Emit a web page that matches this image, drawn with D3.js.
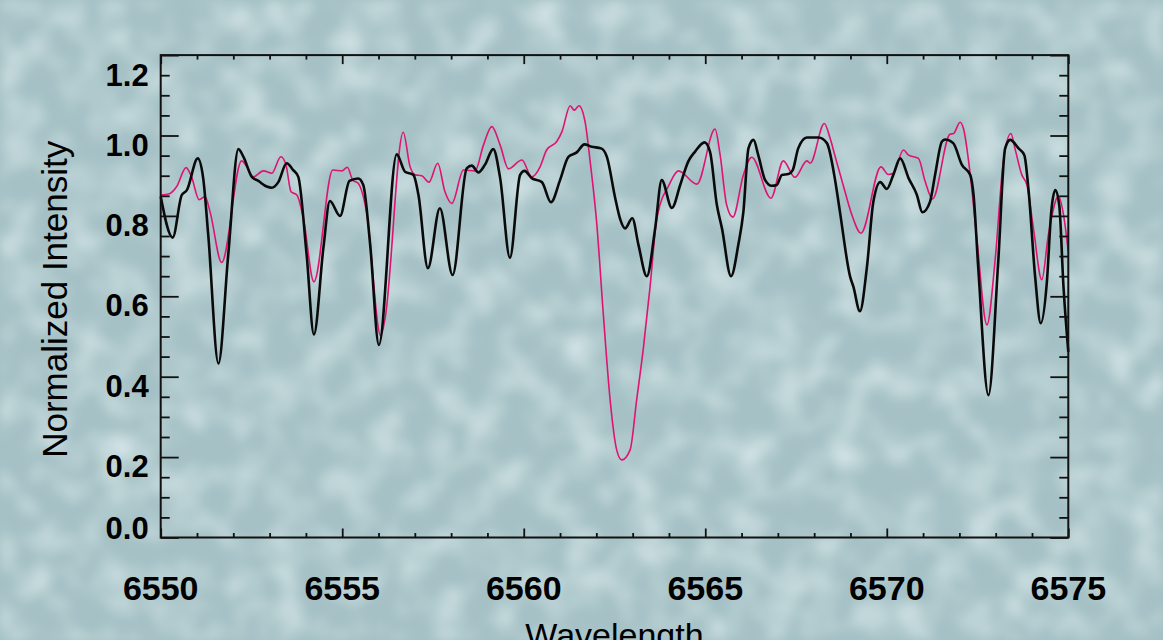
<!DOCTYPE html>
<html>
<head>
<meta charset="utf-8">
<script src="https://cdn.jsdelivr.net/npm/d3@7"></script>
<style>
  html, body { margin: 0; padding: 0; background: #a9c5c9; overflow: hidden; }
  svg { display: block; }
  .tick-label { font-family: "Liberation Sans", Arial, Helvetica, sans-serif; font-weight: bold; fill: #000; }
  .axis-title { font-family: "Liberation Sans", Arial, Helvetica, sans-serif; fill: #000; }
</style>
</head>
<body>
<svg id="chart" width="1163" height="640"></svg>
<script>
// observed spectrum (black)
const observedWave = [6550.00, 6550.33, 6550.58, 6550.72, 6551.02, 6551.17, 6551.31, 6551.59, 6551.86, 6552.14, 6552.28, 6552.51, 6552.69, 6552.92, 6553.06, 6553.24, 6553.47, 6553.65, 6553.79, 6554.02, 6554.22, 6554.48, 6554.66, 6554.94, 6555.20, 6555.44, 6555.58, 6555.77, 6556.01, 6556.50, 6556.73, 6556.96, 6557.10, 6557.36, 6557.69, 6558.04, 6558.43, 6558.57, 6558.75, 6558.93, 6559.16, 6559.35, 6559.62, 6559.90, 6560.02, 6560.22, 6560.50, 6560.75, 6561.00, 6561.23, 6561.46, 6561.67, 6561.87, 6562.13, 6562.29, 6562.52, 6562.65, 6562.79, 6562.99, 6563.16, 6563.39, 6563.62, 6563.80, 6564.08, 6564.31, 6564.53, 6564.72, 6564.98, 6565.13, 6565.32, 6565.46, 6565.71, 6565.91, 6566.05, 6566.19, 6566.33, 6566.46, 6566.65, 6566.83, 6566.97, 6567.11, 6567.29, 6567.41, 6567.56, 6567.80, 6568.12, 6568.35, 6568.58, 6568.71, 6568.99, 6569.08, 6569.26, 6569.45, 6569.63, 6569.82, 6570.00, 6570.18, 6570.37, 6570.60, 6570.83, 6570.98, 6571.19, 6571.33, 6571.52, 6571.61, 6571.83, 6572.07, 6572.30, 6572.39, 6572.52, 6572.80, 6573.07, 6573.26, 6573.40, 6573.63, 6573.79, 6573.90, 6574.09, 6574.24, 6574.41, 6574.53, 6574.64, 6574.75, 6574.87, 6575.00];
const observedFlux = [0.848, 0.746, 0.852, 0.864, 0.943, 0.894, 0.752, 0.433, 0.703, 0.966, 0.947, 0.897, 0.887, 0.873, 0.870, 0.884, 0.931, 0.914, 0.897, 0.703, 0.505, 0.719, 0.837, 0.800, 0.887, 0.893, 0.877, 0.728, 0.479, 0.953, 0.910, 0.902, 0.852, 0.670, 0.819, 0.653, 0.918, 0.925, 0.908, 0.927, 0.966, 0.894, 0.696, 0.902, 0.912, 0.894, 0.884, 0.834, 0.889, 0.947, 0.958, 0.978, 0.972, 0.968, 0.947, 0.844, 0.794, 0.769, 0.794, 0.728, 0.650, 0.769, 0.889, 0.820, 0.877, 0.935, 0.960, 0.983, 0.960, 0.827, 0.769, 0.650, 0.728, 0.810, 0.968, 0.989, 0.951, 0.889, 0.875, 0.877, 0.902, 0.904, 0.914, 0.968, 0.995, 0.995, 0.981, 0.887, 0.810, 0.649, 0.624, 0.563, 0.670, 0.835, 0.884, 0.867, 0.902, 0.943, 0.894, 0.852, 0.809, 0.835, 0.902, 0.985, 0.990, 0.981, 0.927, 0.902, 0.852, 0.670, 0.354, 0.686, 0.968, 0.989, 0.968, 0.951, 0.869, 0.645, 0.533, 0.636, 0.810, 0.864, 0.827, 0.620, 0.462];

// model spectrum (magenta)
const modelWave = [6550.00, 6550.26, 6550.44, 6550.70, 6550.85, 6551.06, 6551.22, 6551.36, 6551.68, 6552.23, 6552.37, 6552.55, 6552.83, 6553.06, 6553.31, 6553.45, 6553.59, 6553.75, 6553.93, 6554.22, 6554.74, 6554.99, 6555.14, 6555.29, 6555.44, 6555.67, 6556.06, 6556.18, 6556.68, 6556.87, 6557.01, 6557.19, 6557.39, 6557.63, 6557.83, 6558.02, 6558.34, 6558.66, 6558.89, 6559.12, 6559.35, 6559.58, 6559.95, 6560.22, 6560.45, 6560.63, 6560.91, 6561.05, 6561.28, 6561.39, 6561.52, 6561.69, 6561.83, 6562.01, 6562.19, 6562.38, 6562.56, 6562.70, 6562.93, 6563.11, 6563.30, 6563.48, 6563.66, 6563.75, 6563.98, 6564.26, 6564.77, 6565.27, 6565.41, 6565.59, 6565.76, 6566.05, 6566.28, 6566.81, 6567.15, 6567.47, 6567.80, 6567.89, 6568.28, 6568.44, 6568.58, 6568.85, 6569.04, 6569.29, 6569.84, 6570.04, 6570.18, 6570.46, 6570.60, 6570.87, 6571.06, 6571.26, 6571.74, 6571.84, 6572.02, 6572.11, 6572.30, 6572.48, 6572.76, 6572.98, 6573.21, 6573.42, 6573.53, 6573.72, 6573.86, 6574.04, 6574.27, 6574.45, 6574.73, 6574.87, 6575.00];
const modelFlux = [0.852, 0.856, 0.873, 0.920, 0.897, 0.840, 0.848, 0.810, 0.684, 0.937, 0.922, 0.897, 0.912, 0.906, 0.947, 0.927, 0.860, 0.852, 0.794, 0.636, 0.914, 0.912, 0.921, 0.889, 0.881, 0.810, 0.502, 0.545, 1.008, 0.922, 0.902, 0.900, 0.884, 0.931, 0.860, 0.831, 0.914, 0.912, 0.976, 1.022, 0.976, 0.917, 0.939, 0.897, 0.922, 0.964, 0.985, 1.009, 1.074, 1.063, 1.074, 1.034, 0.935, 0.782, 0.558, 0.342, 0.218, 0.193, 0.218, 0.342, 0.475, 0.624, 0.790, 0.827, 0.873, 0.912, 0.879, 1.016, 0.951, 0.827, 0.797, 0.902, 0.946, 0.844, 0.937, 0.896, 0.937, 0.931, 1.030, 0.993, 0.947, 0.860, 0.802, 0.757, 0.922, 0.903, 0.906, 0.964, 0.951, 0.943, 0.885, 0.842, 1.003, 1.005, 1.033, 1.018, 0.902, 0.744, 0.529, 0.686, 0.935, 1.005, 0.968, 0.902, 0.877, 0.769, 0.641, 0.752, 0.849, 0.802, 0.711];

const xMajorTicks = [6550, 6555, 6560, 6565, 6570, 6575];
const xMinorTicks = [6551, 6552, 6553, 6554, 6556, 6557, 6558, 6559, 6561, 6562, 6563, 6564, 6566, 6567, 6568, 6569, 6571, 6572, 6573, 6574];
const yMajorTicks = [0.0, 0.2, 0.4, 0.6, 0.8, 1.0, 1.2];
const yMinorTicks = [0.05, 0.1, 0.15, 0.25, 0.3, 0.35, 0.45, 0.5, 0.55, 0.65, 0.7, 0.75, 0.85, 0.9, 0.95, 1.05, 1.1, 1.15];

const svg = d3.select("#chart");
const frame = { left: 160.7, right: 1068.3, top: 55.1, bottom: 537.5 };

const x = d3.scaleLinear().domain([6550, 6575]).range([frame.left, frame.right]);
const y = d3.scaleLinear().domain([0, 1.2]).range([frame.bottom, frame.top]);

function drawBackground() {
  const defs = svg.append("defs");
  const f = defs.append("filter")
    .attr("id", "mottle")
    .attr("x", 0).attr("y", 0).attr("width", "100%").attr("height", "100%");
  f.append("feTurbulence")
    .attr("type", "fractalNoise")
    .attr("baseFrequency", "0.03")
    .attr("numOctaves", 2)
    .attr("seed", 7);
  f.append("feColorMatrix")
    .attr("type", "matrix")
    .attr("values", "0 0 0 0 0.80  0 0 0 0 0.90  0 0 0 0 0.92  1.5 0 0 0 -0.62");
  f.append("feGaussianBlur").attr("stdDeviation", 5);

  svg.append("rect").attr("width", 1163).attr("height", 640).attr("fill", "#a5c1c5");
  svg.append("rect").attr("width", 1163).attr("height", 640).attr("filter", "url(#mottle)");
}

function drawAxes() {
  const axes = [
    { gen: d3.axisRight(y), t: `translate(${frame.left},0)`, major: yMajorTicks, minor: yMinorTicks, big: 18, small: 9 },
    { gen: d3.axisLeft(y), t: `translate(${frame.right},0)`, major: yMajorTicks, minor: yMinorTicks, big: 18, small: 9 },
    { gen: d3.axisTop(x), t: `translate(0,${frame.bottom})`, major: xMajorTicks, minor: xMinorTicks, big: 9, small: 4.5 },
    { gen: d3.axisBottom(x), t: `translate(0,${frame.top})`, major: xMajorTicks, minor: xMinorTicks, big: 9, small: 4.5 },
  ];

  axes.forEach((a) => {
    [[a.major, a.big], [a.minor, a.small]].forEach(([vals, len]) => {
      svg.append("g")
        .attr("transform", a.t)
        .call(a.gen.tickValues(vals).tickSize(len).tickSizeOuter(0).tickFormat(""))
        .call((g) => g.select(".domain").remove())
        .selectAll("line")
        .attr("stroke", "#111")
        .attr("stroke-width", 1.8);
    });
  });

  svg.append("rect")
    .attr("x", frame.left)
    .attr("y", frame.top)
    .attr("width", frame.right - frame.left)
    .attr("height", frame.bottom - frame.top)
    .attr("fill", "none")
    .attr("stroke", "#111")
    .attr("stroke-width", 2);

  // tick labels
  svg.selectAll(".ylab")
    .data(yMajorTicks)
    .enter()
    .append("text")
    .attr("class", "tick-label")
    .attr("x", frame.left - 12)
    .attr("y", (d) => Math.max(y(1.2) + 20, Math.min(y(0) - 10, y(d) + 9)))
    .attr("dy", "0.36em")
    .attr("text-anchor", "end")
    .style("font-size", "31px")
    .text((d) => d.toFixed(1));

  svg.selectAll(".xlab")
    .data(xMajorTicks)
    .enter()
    .append("text")
    .attr("class", "tick-label")
    .attr("x", (d) => x(d))
    .attr("y", 600)
    .attr("text-anchor", "middle")
    .style("font-size", "34px")
    .text((d) => d);

  svg.append("text")
    .attr("class", "axis-title")
    .attr("transform", `translate(67,${(frame.top + frame.bottom) / 2 + 3}) rotate(-90)`)
    .attr("text-anchor", "middle")
    .style("font-size", "35px")
    .text("Normalized Intensity");

  svg.append("text")
    .attr("class", "axis-title")
    .attr("x", (frame.left + frame.right) / 2)
    .attr("y", 647)
    .attr("text-anchor", "middle")
    .style("font-size", "34px")
    .text("Wavelength");
}

function drawSpectrum(wave, flux, color, width) {
  const pts = wave.map((w, i) => [w, flux[i]]);
  const line = d3.line()
    .x((d) => x(d[0]))
    .y((d) => y(d[1]))
    .curve(d3.curveMonotoneX);
  svg.append("path")
    .datum(pts)
    .attr("d", line)
    .attr("fill", "none")
    .attr("stroke", color)
    .attr("stroke-width", width)
    .attr("stroke-linejoin", "round");
}

drawBackground();
drawSpectrum(modelWave, modelFlux, "#de1472", 1.6);
drawSpectrum(observedWave, observedFlux, "#0a0a0a", 2.6);
drawAxes();
</script>
</body>
</html>
